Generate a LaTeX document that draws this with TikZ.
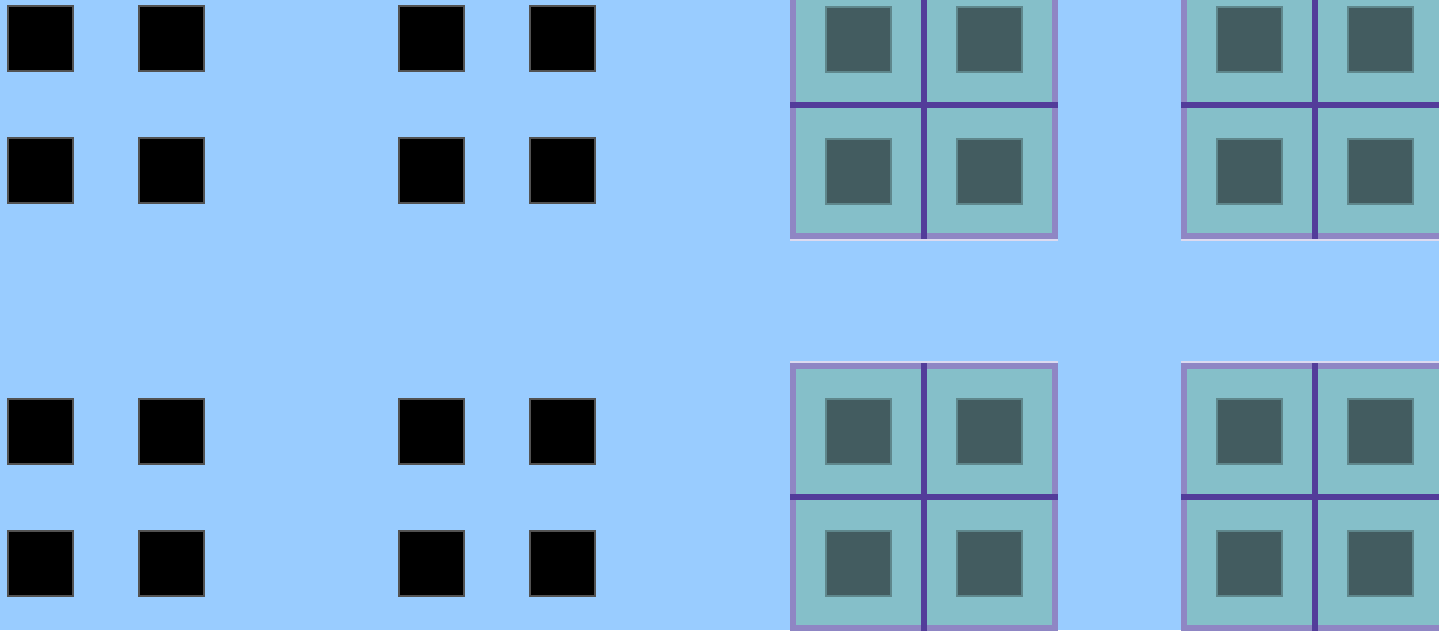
\documentclass[tikz,border=0pt]{standalone}
\definecolor{bg}{HTML}{99CCFF}
\definecolor{tealfill}{HTML}{85BFC9}
\definecolor{darksq}{HTML}{435C60}
\definecolor{darksqedge}{HTML}{5F878C}
\definecolor{boxborder}{HTML}{8F86C4}
\definecolor{divider}{HTML}{533C9A}
\definecolor{hilite}{HTML}{DCDAF0}
\tikzset{
  blk/.style={draw=black!68, line width=2pt, fill=black, minimum size=65pt, inner sep=0pt},
  dsq/.style={draw=darksqedge, line width=2pt, fill=darksq, minimum size=65pt, inner sep=0pt},
  tbox/.style={draw=boxborder, line width=6pt, fill=tealfill, minimum size=262pt, inner sep=0pt},
  divl/.style={draw=divider, line width=6pt},
  hil/.style={draw=hilite, line width=2pt}
}
\begin{document}
\begin{tikzpicture}[x=1pt,y=-1pt]
  \fill[bg] (0,0) rectangle (1439,630);
  \useasboundingbox (0,0) rectangle (1439,630);
  % black squares (left half)
  \foreach \gx/\gn in {0/a,391.5/b} {
    \foreach \gy/\gm in {0/t,393/u} {
      \foreach \dx/\cn in {0/1,131/2} {
        \foreach \dy/\rn in {0/1,132/2} {
          \node[blk] (k\gn\gm\cn\rn) at (40+\gx+\dx, 38+\gy+\dy) {};
        }
      }
    }
  }
  % teal boxes (right half)
  \foreach \bx/\bn in {924/c,1315/d} {
    \foreach \by/\bm in {105/t,497/u} {
      \node[tbox] (box\bn\bm) at (\bx,\by) {};
      \foreach \dx/\cn in {-65.5/1,65.5/2} {
        \foreach \dy/\rn in {-66/1,66/2} {
          \node[dsq] (q\bn\bm\cn\rn) at (\bx+\dx, \by+\dy) {};
        }
      }
      \draw[divl] (box\bn\bm.north) -- (box\bn\bm.south);
      \draw[divl] (box\bn\bm.west) -- (box\bn\bm.east);
    }
  }
  % light edges
  \draw[hil] ([yshift=-1pt]boxct.south west) -- ([yshift=-1pt]boxct.south east);
  \draw[hil] ([yshift=-1pt]boxdt.south west) -- ([yshift=-1pt]boxdt.south east);
  \draw[hil] ([yshift=1pt]boxcu.north west) -- ([yshift=1pt]boxcu.north east);
  \draw[hil] ([yshift=1pt]boxdu.north west) -- ([yshift=1pt]boxdu.north east);
\end{tikzpicture}
\end{document}
